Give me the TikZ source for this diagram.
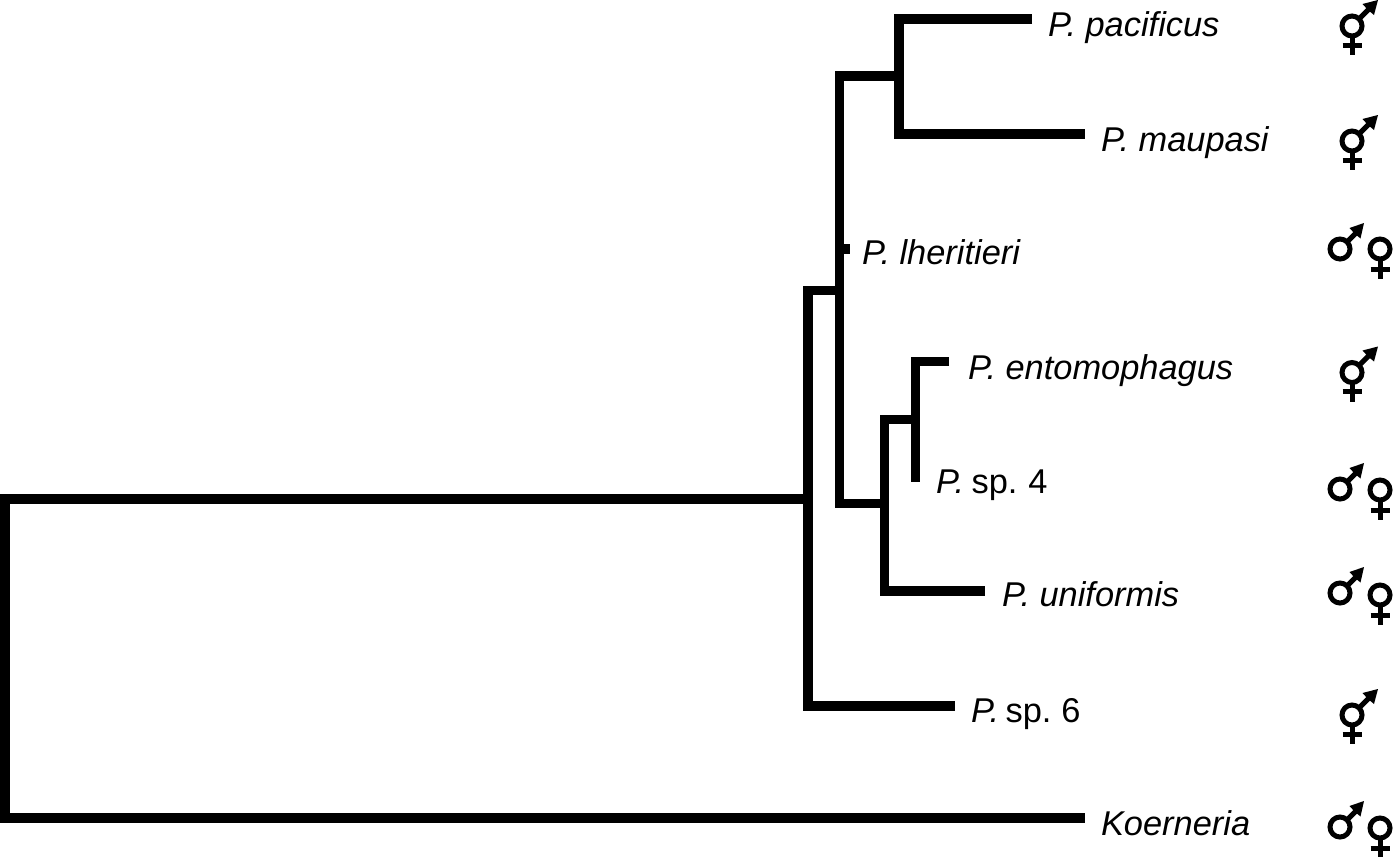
\documentclass[tikz,border=0pt]{standalone}
\usepackage{fontspec}
\setmainfont{Liberation Sans}
\tikzset{
  branch/.style={line width=9.4pt,line cap=butt,line join=miter,black},
  rootbranch/.style={line width=10pt,line cap=butt,line join=miter,black},
  taxon/.style={anchor=base west,inner sep=0pt,outer sep=0pt,font=\fontsize{34.4}{40}\selectfont,text=black},
  symline/.style={line width=5pt,black,line cap=butt},
  herm/.pic={
    \draw[symline] (0,0) circle (10);
    \draw[symline] (0,10) -- (0,29);
    \draw[symline] (-9.5,19) -- (9.5,19);
    \draw[symline] (7,-7) -- (18,-18);
    \fill[black] (26,-26) -- (10.5,-22) -- (16,-16) -- (22,-11) -- cycle;
  },
  malesym/.pic={
    \draw[symline] (0,0) circle (10);
    \draw[symline] (7,-7) -- (16,-16);
    \fill[black] (24,-26) -- (9.5,-21) -- (15,-15) -- (20.5,-10.5) -- cycle;
  },
  femalesym/.pic={
    \draw[symline] (0,0) circle (10);
    \draw[symline] (0,10) -- (0,30);
    \draw[symline] (-9.5,20.5) -- (9.5,20.5);
  }
}
\begin{document}
\begin{tikzpicture}[x=1pt,y=-1pt]
\useasboundingbox (0,0) rectangle (1393,857);
% taxa
\node[taxon] (pac) at (1048,36) {\itshape P. pacificus};
\node[taxon] (mau) at (1101,151) {\itshape P. maupasi};
\node[taxon] (lhe) at (862,264) {\itshape P. lheritieri};
\node[taxon] (ent) at (968,379) {\itshape P. entomophagus};
\node[taxon] (sp4) at (936,493) {\textit{P.}\hspace{-2pt} sp.\hspace{-2pt} 4};
\node[taxon] (uni) at (1002,606) {\itshape P. uniformis};
\node[taxon] (sp6) at (971,722) {\textit{P.}\hspace{-3pt} sp.\hspace{-3pt} 6};
\node[taxon] (koe) at (1101,835) {\itshape Koerneria};
% tips
\coordinate (tpac) at (1032,19);
\coordinate (tmau) at (1085,134);
\coordinate (tlhe) at (850,249);
\coordinate (tent) at (949,361.5);
\coordinate (tsp4) at (915.5,482);
\coordinate (tuni) at (985,591);
\coordinate (tsp6) at (955,706);
\coordinate (tkoe) at (1085,818);
% internal nodes
\coordinate (n1) at (899,76);
\coordinate (n2) at (915.5,419.5);
\coordinate (n3) at (884.5,503.5);
\coordinate (n4) at (839.5,290.5);
\coordinate (n5) at (808,499);
\coordinate (root) at (5,499);
% branches
\draw[branch] (tpac) -- (899,19) -- (899,134) -- (tmau);
\draw[branch] (n1) -- (839.5,76) -- (839.5,503.5) -- (n3);
\draw[branch] (839.5,249) -- (tlhe);
\draw[branch] (tent) -- (915.5,361.5) -- (tsp4);
\draw[branch] (n2) -- (884.5,419.5) -- (884.5,591) -- (tuni);
\draw[branch] (n4) -- (808,290.5) -- (808,706) -- (tsp6);
\draw[rootbranch] (n5) -- (root) -- (5,818) -- (tkoe);
% symbols
\pic (s1) at (1352,26) {herm};
\pic (s2) at (1352,141) {herm};
\pic (s3m) at (1340,249) {malesym};
\pic (s3f) at (1380,249) {femalesym};
\pic (s4) at (1352,372.5) {herm};
\pic (s5m) at (1340,489) {malesym};
\pic (s5f) at (1380,490) {femalesym};
\pic (s6m) at (1340,593) {malesym};
\pic (s6f) at (1380,595) {femalesym};
\pic (s7) at (1352,715) {herm};
\pic (s8m) at (1340,827) {malesym};
\pic (s8f) at (1380,828) {femalesym};
\end{tikzpicture}
\end{document}
